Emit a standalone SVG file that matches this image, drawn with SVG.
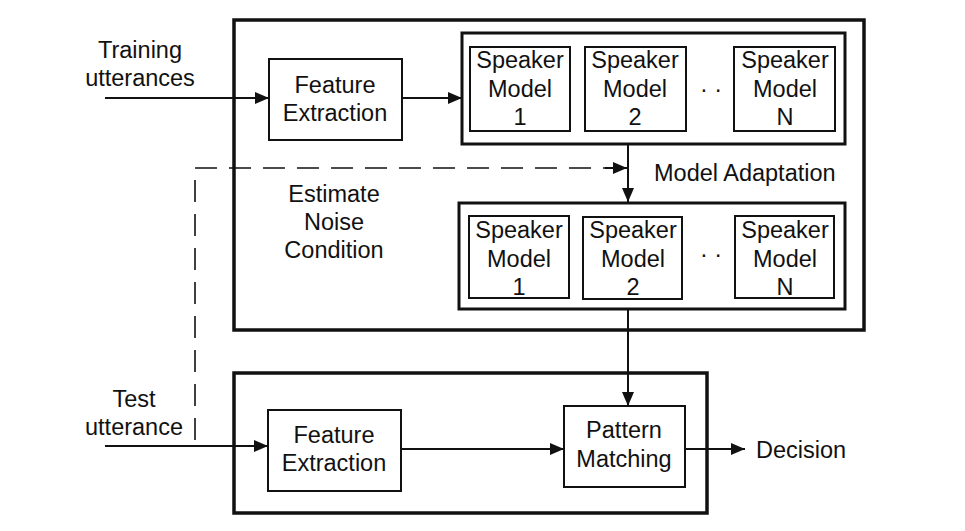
<svg xmlns="http://www.w3.org/2000/svg" width="965" height="531" viewBox="0 0 965 531">
<style>
text{font-family:"Liberation Sans",Arial,sans-serif;font-size:23.5px;fill:#111;text-anchor:middle}
.big{fill:none;stroke:#111;stroke-width:3.5}
.cont{fill:none;stroke:#111;stroke-width:3}
.box{fill:#fff;stroke:#111;stroke-width:2}
.ln{fill:none;stroke:#111;stroke-width:2}
.dash{fill:none;stroke:#111;stroke-width:1.6;stroke-dasharray:22 12}
</style>
<defs>
<marker id="ah" viewBox="0 0 14 12" refX="14" refY="6" markerWidth="14" markerHeight="12" markerUnits="userSpaceOnUse" orient="auto">
<path d="M0,0 L14,6 L0,12 Z" fill="#111"/>
</marker>
</defs>
<rect id="trainBox" class="big" x="234" y="20" width="630" height="310"/>
<rect id="testBox" class="big" x="234" y="373" width="473" height="140"/>
<g id="connectors">
<line class="ln" x1="105" y1="98" x2="269" y2="98" marker-end="url(#ah)"/>
<line class="ln" x1="402" y1="98" x2="462" y2="98" marker-end="url(#ah)"/>
<line class="ln" x1="628" y1="144" x2="628" y2="202" marker-end="url(#ah)"/>
<polyline class="dash" points="195,440 195,168 612,168"/>
<line class="ln" x1="605" y1="168" x2="627" y2="168" marker-end="url(#ah)" stroke-width="1.6"/>
<line class="ln" x1="628" y1="309" x2="628" y2="406" marker-end="url(#ah)"/>
<line class="ln" x1="105" y1="446" x2="268" y2="446" marker-end="url(#ah)"/>
<line class="ln" x1="402" y1="449" x2="564" y2="449" marker-end="url(#ah)"/>
<line class="ln" x1="685" y1="449" x2="745" y2="449" marker-end="url(#ah)"/>
</g>
<g id="trainingLabel"><text x="140" y="58">Training</text><text x="140" y="86">utterances</text></g>
<g id="feTop"><rect class="box" x="269" y="59" width="133" height="81"/><text x="335" y="93">Feature</text><text x="335" y="121">Extraction</text></g>
<g id="modelsTop">
<rect class="cont" x="462" y="33" width="383" height="111"/>
<g id="smTop1"><rect class="box" x="470" y="47" width="100" height="84"/><text x="520" y="68">Speaker</text><text x="520" y="97">Model</text><text x="520" y="125">1</text></g>
<g id="smTop2"><rect class="box" x="585" y="47" width="101" height="84"/><text x="635" y="68">Speaker</text><text x="635" y="97">Model</text><text x="635" y="125">2</text></g>
<text x="711" y="97">· ·</text>
<g id="smTopN"><rect class="box" x="734" y="47" width="101" height="84"/><text x="785" y="68">Speaker</text><text x="785" y="97">Model</text><text x="785" y="125">N</text></g>
</g>
<g id="adaptLabel"><text x="654" y="181" style="text-anchor:start">Model Adaptation</text></g>
<g id="noiseLabel"><text x="334" y="202">Estimate</text><text x="334" y="230">Noise</text><text x="334" y="258">Condition</text></g>
<g id="modelsBottom">
<rect class="cont" x="459" y="203" width="386" height="106"/>
<g id="smBot1"><rect class="box" x="469" y="216" width="100" height="82"/><text x="519" y="238">Speaker</text><text x="519" y="267">Model</text><text x="519" y="295">1</text></g>
<g id="smBot2"><rect class="box" x="583" y="217" width="99" height="82"/><text x="633" y="238">Speaker</text><text x="633" y="267">Model</text><text x="633" y="295">2</text></g>
<text x="711" y="262">· ·</text>
<g id="smBotN"><rect class="box" x="735" y="216" width="99" height="82"/><text x="785" y="238">Speaker</text><text x="785" y="267">Model</text><text x="785" y="295">N</text></g>
</g>
<g id="testLabel"><text x="134" y="407">Test</text><text x="134" y="435">utterance</text></g>
<g id="feBottom"><rect class="box" x="268" y="410" width="133" height="81"/><text x="334" y="443">Feature</text><text x="334" y="471">Extraction</text></g>
<g id="pattern"><rect class="box" x="564" y="406" width="121" height="81"/><text x="624" y="438">Pattern</text><text x="624" y="467">Matching</text></g>
<g id="decisionLabel"><text x="756" y="458" style="text-anchor:start">Decision</text></g>
</svg>
